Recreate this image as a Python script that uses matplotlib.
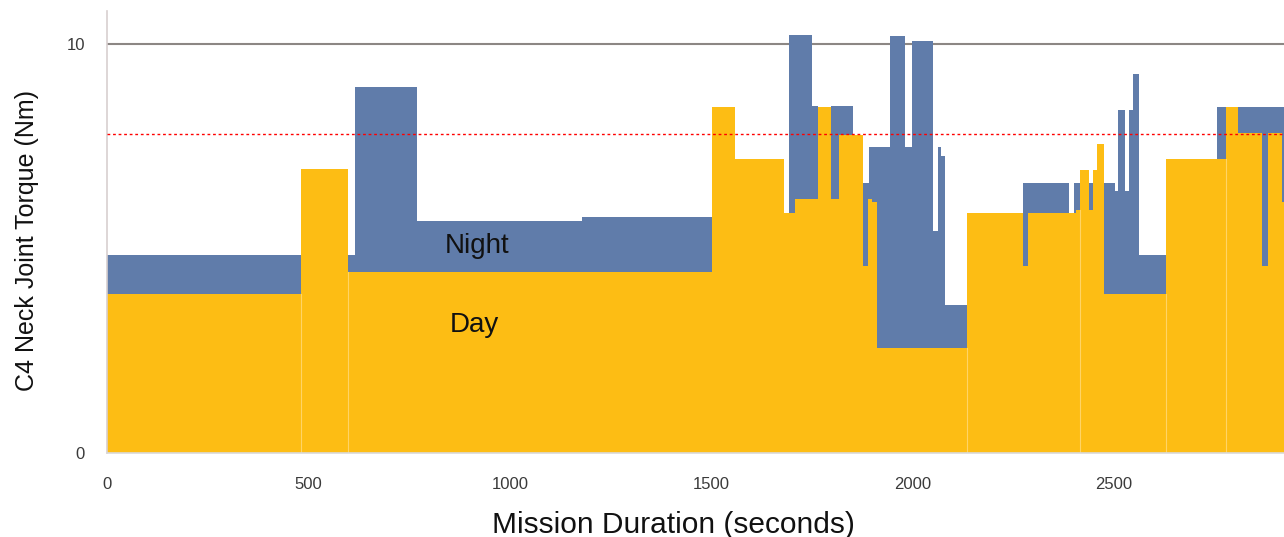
import matplotlib
matplotlib.use("Agg")
import matplotlib.pyplot as plt
import numpy as np

# ---- data (seconds, Nm) ----
night_edges = [0, 616, 769, 1180, 1502, 1681, 1693, 1750, 1766, 1797, 1853, 1876,
               1892, 1944, 1981, 1999, 2050, 2063, 2071, 2080, 2136, 2273, 2388,
               2401, 2503, 2509, 2527, 2538, 2546, 2562, 2628, 2755, 2922]
night_values = [4.84, 8.96, 5.68, 5.76, 5.8, 5.8, 10.22, 8.48, 8.47, 8.48, 7.5,
                6.61, 7.49, 10.2, 7.49, 10.08, 5.44, 7.49, 7.25, 3.62, 5.5, 6.61,
                5.5, 6.61, 6.41, 8.39, 6.41, 8.39, 9.27, 4.85, 6.5, 8.47]

day_edges = [0, 482, 598, 1502, 1559, 1681, 1708, 1766, 1797, 1817, 1876, 1890,
             1900, 1911, 2136, 2273, 2287, 2405, 2416, 2437, 2449, 2457, 2476,
             2628, 2778, 2807, 2867, 2883, 2918, 2922]
day_values = [3.88, 6.94, 4.42, 8.45, 7.2, 5.86, 6.2, 8.47, 6.2, 7.78, 4.57, 6.2,
              6.13, 2.56, 5.86, 4.57, 5.86, 5.93, 6.93, 5.94, 6.93, 7.55, 3.88,
              7.2, 8.47, 7.83, 4.57, 7.83, 6.14]

day_seams = [482, 598, 2136, 2416, 2628, 2778]
threshold = 7.8
xticks = [0, 500, 1000, 1500, 2000, 2500]
yticks = [0, 10]

night_color = "#607CAA"
day_color = "#FDBD14"

plt.rcParams['font.family'] = ['Liberation Sans', 'DejaVu Sans']

fig = plt.figure(figsize=(12.84, 5.37), dpi=100)
ymax = 10.8
ax_h_px = ymax * 40.9
ax = fig.add_axes([107 / 1284, 84 / 537, 1 - 107 / 1284, ax_h_px / 537])

ax.axhline(10, color="#8c8784", lw=1.5, zorder=0.5)

ax.stairs(night_values, night_edges, fill=True, color=night_color, zorder=1, lw=0)
ax.stairs(day_values, day_edges, fill=True, color=day_color, zorder=2, lw=0)

# faint seams between day segments
for s in day_seams:
    i = day_edges.index(s)
    top = min(day_values[i - 1], day_values[i])
    ax.plot([s, s], [0, top], color="#FFD466", lw=0.8, zorder=2.5)

ax.axhline(threshold, color="#FF0000", lw=1.0, ls=(0, (2, 2)), zorder=3)

ax.text(918, 5.06, "Night", fontsize=20, ha="center", va="center", color="#111111", zorder=4)
ax.text(911, 3.13, "Day", fontsize=20, ha="center", va="center", color="#111111", zorder=4)

ax.set_xlim(0, 2922)
ax.set_ylim(0, ymax)
ax.set_xticks(xticks)
ax.set_yticks(yticks)
ax.tick_params(axis="both", length=0, labelsize=12, colors="#3a3a3a")
ax.tick_params(axis="x", pad=17)
ax.tick_params(axis="y", pad=16)

for side in ["top", "right"]:
    ax.spines[side].set_visible(False)
ax.spines["left"].set_color("#d8cfcf")
ax.spines["bottom"].set_color("#d9d9d9")
ax.spines["left"].set_linewidth(1.2)
ax.spines["bottom"].set_linewidth(1.2)

ax.set_xlabel("Mission Duration (seconds)", fontsize=21.5, color="#111111")
ax.set_ylabel("C4 Neck Joint Torque (Nm)", fontsize=18, color="#111111")
ax.xaxis.set_label_coords(0.481, -0.163)
ax.yaxis.set_label_coords(-0.068, 0.482)
ax.xaxis.label.set_va("center")
ax.yaxis.label.set_va("center")

fig.savefig("out.png", dpi=100)
